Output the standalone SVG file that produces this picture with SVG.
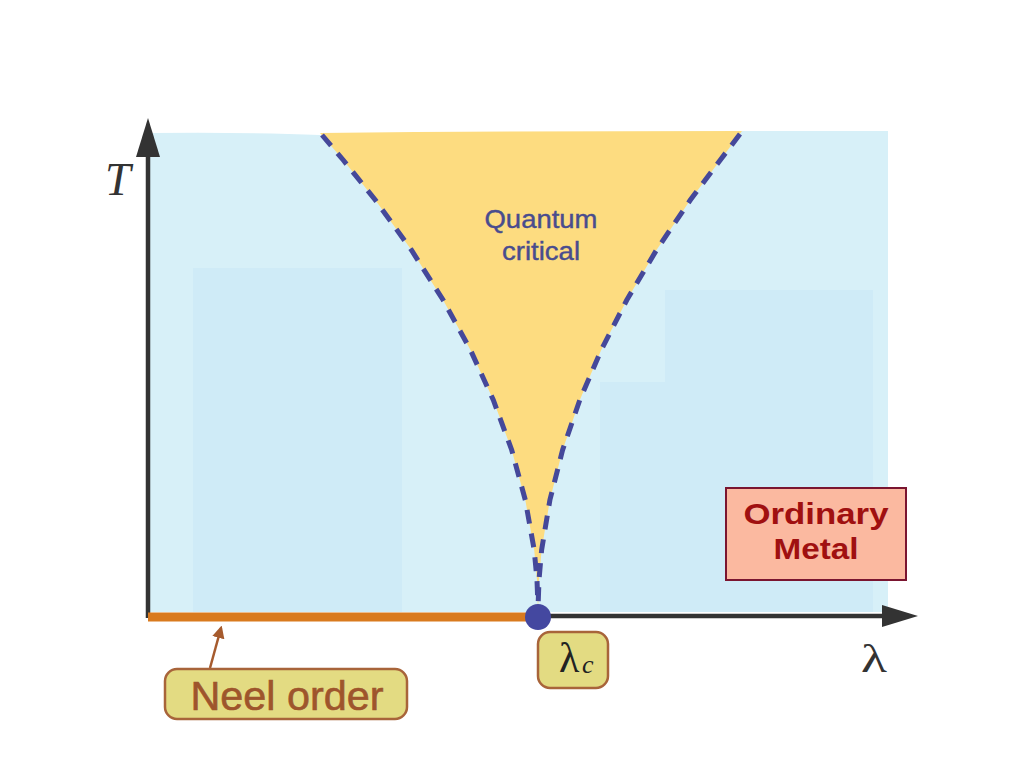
<svg xmlns="http://www.w3.org/2000/svg" width="1024" height="768" viewBox="0 0 1024 768">
<style>
.sans{font-family:"Liberation Sans",Arial,sans-serif}
.serif{font-family:"Liberation Serif","DejaVu Serif",serif}
.box{fill:#e3db82;stroke:#a8643a;stroke-width:2.5}
.dash{fill:none;stroke:#45489a;stroke-width:5;stroke-dasharray:14 10}
</style>
<defs>
<marker id="brownArrow" viewBox="0 0 10 10" refX="8" refY="5" markerWidth="5" markerHeight="5" orient="auto">
<path d="M0,0 L10,5 L0,10 z" fill="#a65b2e"/>
</marker>
</defs>
<rect width="1024" height="768" fill="#ffffff"/>
<g id="background">
<path d="M150,133 Q250,132 320,135 L742,131 L888,131 L888,612 L150,612 Z" fill="#d7f0f8"/>
<rect x="193" y="268" width="209" height="344" fill="#cfebf7"/>
<rect x="665" y="290" width="208" height="322" fill="#cfebf7"/>
<rect x="600" y="382" width="65" height="230" fill="#cfebf7"/>
</g>
<g id="quantum-critical">
<path d="M320,133 L343.2,160 L375.3,200 L411.4,250 L443.1,300 L470.5,350 L493.3,400 L511.7,450 L525.3,500 L534.2,550 L537,580 L538,612 L539,580 L541.6,550 L549.9,500 L562.6,450 L579.8,400 L601.2,350 L626.8,300 L656.5,250 L690.3,200 L720.3,160 L742,131 Q530,131 320,133 Z" fill="#fddc80"/>
<text class="sans" x="541" y="228" font-size="26" fill="#494c8e" stroke="#494c8e" stroke-width="0.4" text-anchor="middle" textLength="113" lengthAdjust="spacingAndGlyphs">Quantum</text>
<text class="sans" x="541" y="260" font-size="26" fill="#494c8e" stroke="#494c8e" stroke-width="0.4" text-anchor="middle" textLength="78" lengthAdjust="spacingAndGlyphs">critical</text>
</g>
<g id="connectors">
<path class="dash" d="M322,135 L343.2,160 L375.3,200 L411.4,250 L443.1,300 L470.5,350 L493.3,400 L511.7,450 L525.3,500 L534.2,550 L537,580 L538,608"/>
<path class="dash" d="M740,134 L720.3,160 L690.3,200 L656.5,250 L626.8,300 L601.2,350 L579.8,400 L562.6,450 L549.9,500 L541.6,550 L539,580 L538,608"/>
<line x1="148" y1="618" x2="148" y2="150" stroke="#333333" stroke-width="4.5"/>
<path d="M136,157 L148,118 L160,157 Z" fill="#333333"/>
<line x1="148" y1="616" x2="886" y2="616" stroke="#333333" stroke-width="4.5"/>
<path d="M882,605 L918,616 L882,627 Z" fill="#333333"/>
<line x1="148" y1="617" x2="538" y2="617" stroke="#d97a1e" stroke-width="9"/>
<line x1="210" y1="668" x2="221" y2="628" stroke="#a65b2e" stroke-width="2.5" marker-end="url(#brownArrow)"/>
</g>
<g id="critical-point">
<circle cx="538" cy="617" r="13" fill="#4448a0"/>
</g>
<g id="axis-labels">
<text class="serif" x="105" y="195" font-size="46" font-style="italic" fill="#333333">T</text>
<text class="serif" x="861" y="672" font-size="40" fill="#333333" textLength="26" lengthAdjust="spacingAndGlyphs">λ</text>
</g>
<g id="lambda-c">
<rect class="box" x="538" y="632" width="70" height="56" rx="12"/>
<text class="serif" x="559" y="672" font-size="42" fill="#222222">λ</text>
<text class="serif" x="582" y="673" font-size="26" font-style="italic" fill="#222222">c</text>
</g>
<g id="neel-order">
<rect class="box" x="165" y="669" width="242" height="50" rx="12"/>
<text class="sans" x="287" y="710" font-size="40" fill="#9e552c" stroke="#9e552c" stroke-width="0.6" text-anchor="middle" textLength="193" lengthAdjust="spacingAndGlyphs">Neel order</text>
</g>
<g id="ordinary-metal">
<rect x="726" y="488" width="180" height="92" fill="#fbb9a0" stroke="#7a1530" stroke-width="2"/>
<text class="sans" x="816" y="524" font-size="30" font-weight="bold" fill="#a01010" text-anchor="middle" textLength="145" lengthAdjust="spacingAndGlyphs">Ordinary</text>
<text class="sans" x="816" y="559" font-size="30" font-weight="bold" fill="#a01010" text-anchor="middle" textLength="85" lengthAdjust="spacingAndGlyphs">Metal</text>
</g>
</svg>
